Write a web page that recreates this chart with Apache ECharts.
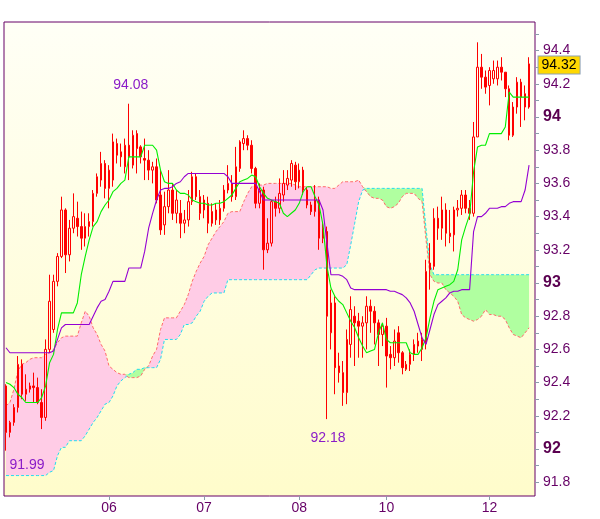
<!DOCTYPE html>
<html><head><meta charset="utf-8">
<script src="https://cdn.jsdelivr.net/npm/echarts@6/dist/echarts.min.js"></script>
<style>html,body{margin:0;padding:0;background:#fff}#c{width:600px;height:519px}</style>
</head><body><div id="c"></div>
<script>
const opens = [
92.38,92.10,92.16,92.25,92.51,92.33,92.36,92.38,92.37,92.28,
92.19,92.60,92.72,93.01,93.16,93.44,93.17,93.33,93.39,93.34,
93.27,93.34,93.37,93.54,93.62,93.72,93.57,93.62,93.84,93.79,
93.70,93.83,93.71,93.90,93.82,93.75,93.74,93.68,93.70,93.53,
93.35,93.46,93.56,93.42,93.42,93.36,93.38,93.49,93.64,93.52,
93.50,93.48,93.43,93.38,93.38,93.45,93.56,93.60,93.52,93.69,
93.84,93.87,93.83,93.69,93.48,93.56,93.20,93.24,93.49,93.45,
93.53,93.59,93.62,93.71,93.61,93.68,93.47,93.47,93.43,93.50,
93.33,93.31,92.70,92.88,92.50,92.46,92.34,92.63,92.80,92.77,
92.74,92.76,92.86,92.83,92.76,92.69,92.74,92.57,92.55,92.70,
92.58,92.48,92.51,92.57,92.62,92.60,92.64,93.12,93.10,93.39,
93.33,93.44,93.30,93.29,93.44,93.45,93.53,93.45,93.42,93.88,
94.30,94.24,94.19,94.23,94.23,94.30,94.27,94.17,93.89,94.06,
94.21,94.14,94.06];
const highs = [
92.39,92.17,92.27,92.56,92.54,92.45,92.40,92.46,92.43,92.36,
92.66,93.05,93.05,93.18,93.52,93.45,93.38,93.54,93.49,93.43,
93.42,93.42,93.56,93.66,93.79,93.74,93.71,93.90,93.87,93.84,
93.87,94.08,93.92,93.92,93.83,93.87,93.80,93.73,93.75,93.68,
93.55,93.68,93.60,93.56,93.50,93.44,93.56,93.67,93.66,93.56,
93.53,93.52,93.48,93.48,93.50,93.59,93.71,93.65,93.82,93.86,
93.92,93.89,93.86,93.70,93.60,93.58,93.39,93.50,93.52,93.63,
93.68,93.68,93.74,93.73,93.72,93.70,93.58,93.49,93.59,93.52,
93.36,93.34,92.96,92.92,92.58,92.53,92.72,92.92,92.86,92.82,
92.80,92.92,92.90,92.86,92.78,92.76,92.79,92.62,92.72,92.74,
92.59,92.53,92.60,92.66,92.70,92.70,93.14,93.24,93.45,93.46,
93.52,93.48,93.44,93.46,93.50,93.56,93.56,93.50,93.97,94.45,
94.38,94.28,94.30,94.34,94.34,94.36,94.27,94.19,94.09,94.24,
94.23,94.19,94.36];
const lows = [
91.99,92.07,92.14,92.22,92.30,92.29,92.34,92.28,92.27,92.12,
92.17,92.58,92.70,92.98,93.15,93.06,93.13,93.30,93.28,93.20,
93.22,93.28,93.34,93.52,93.58,93.51,93.45,93.58,93.72,93.70,
93.66,93.62,93.69,93.66,93.72,93.62,93.62,93.60,93.48,93.29,
93.29,93.42,93.38,93.36,93.27,93.30,93.34,93.47,93.50,93.38,
93.39,93.30,93.34,93.35,93.35,93.43,93.54,93.49,93.50,93.67,
93.80,93.80,93.66,93.45,93.45,93.08,93.18,93.22,93.40,93.42,
93.49,93.56,93.58,93.56,93.57,93.53,93.45,93.41,93.40,93.20,
93.24,92.18,92.60,92.33,92.40,92.26,92.27,92.55,92.50,92.55,
92.55,92.60,92.70,92.63,92.50,92.62,92.37,92.48,92.50,92.52,
92.45,92.47,92.47,92.53,92.58,92.53,92.60,92.96,93.08,93.26,
93.26,93.22,93.24,93.19,93.40,93.41,93.42,93.38,93.40,93.88,
94.17,94.14,94.07,94.20,94.19,94.22,94.12,93.86,93.88,94.02,
93.94,93.98,94.05];
const closes = [
92.10,92.16,92.25,92.51,92.33,92.36,92.38,92.37,92.28,92.19,
92.60,92.89,93.01,93.16,93.44,93.17,93.33,93.40,93.34,93.27,
93.34,93.37,93.54,93.64,93.72,93.57,93.68,93.85,93.77,93.76,
93.83,93.76,93.89,93.81,93.76,93.74,93.68,93.70,93.50,93.32,
93.46,93.56,93.42,93.50,93.36,93.38,93.49,93.64,93.52,93.42,
93.44,93.36,93.36,93.44,93.45,93.56,93.60,93.52,93.70,93.85,
93.87,93.83,93.69,93.48,93.56,93.20,93.24,93.49,93.45,93.54,
93.60,93.63,93.72,93.61,93.68,93.56,93.56,93.43,93.50,93.27,
93.27,92.80,92.88,92.49,92.46,92.34,92.66,92.84,92.76,92.74,
92.76,92.86,92.83,92.76,92.69,92.74,92.56,92.55,92.65,92.58,
92.49,92.51,92.57,92.63,92.65,92.66,93.07,93.08,93.39,93.33,
93.44,93.30,93.28,93.44,93.45,93.53,93.45,93.42,93.88,94.30,
94.24,94.18,94.28,94.28,94.30,94.27,94.17,93.89,94.06,94.21,
94.12,94.06,94.32];
const tenkan = [
92.40,92.39,92.37,92.33,92.31,92.28,92.28,92.28,92.28,92.31,
92.38,92.52,92.57,92.72,92.82,92.82,92.82,92.82,92.88,93.05,
93.16,93.26,93.34,93.37,93.43,93.47,93.50,93.55,93.57,93.60,
93.62,93.76,93.76,93.76,93.76,93.83,93.83,93.83,93.80,93.68,
93.61,93.60,93.60,93.56,93.54,93.54,93.53,93.50,93.49,93.48,
93.48,93.47,93.47,93.48,93.48,93.49,93.51,93.53,93.57,93.61,
93.62,93.63,93.65,93.64,93.58,93.54,93.51,93.50,93.49,93.48,
93.42,93.40,93.42,93.44,93.48,93.55,93.58,93.58,93.52,93.47,
93.35,93.10,92.97,92.92,92.89,92.87,92.82,92.77,92.73,92.67,
92.62,92.58,92.59,92.60,92.70,92.76,92.66,92.64,92.64,92.64,
92.64,92.64,92.58,92.57,92.57,92.61,92.67,92.79,92.89,92.96,
92.97,92.98,92.99,93.01,93.08,93.26,93.34,93.41,93.67,93.82,
93.83,93.83,93.90,93.90,93.90,93.90,93.94,94.15,94.12,94.12,
94.12,94.12,94.12];
const kijun = [
92.61,92.58,92.58,92.58,92.58,92.58,92.58,92.58,92.58,92.58,
92.58,92.58,92.59,92.66,92.73,92.75,92.75,92.75,92.75,92.75,
92.75,92.75,92.80,92.85,92.89,92.90,92.95,93.01,93.01,93.01,
93.01,93.09,93.09,93.09,93.09,93.19,93.33,93.42,93.50,93.56,
93.57,93.57,93.58,93.60,93.61,93.64,93.66,93.66,93.66,93.66,
93.66,93.66,93.66,93.66,93.66,93.66,93.64,93.60,93.60,93.60,
93.60,93.60,93.60,93.60,93.55,93.50,93.50,93.50,93.50,93.50,
93.50,93.50,93.50,93.50,93.50,93.50,93.50,93.50,93.50,93.50,
93.44,93.24,93.05,93.05,93.05,93.04,93.02,92.97,92.96,92.96,
92.96,92.96,92.96,92.96,92.96,92.96,92.96,92.95,92.95,92.94,
92.93,92.91,92.88,92.83,92.75,92.67,92.63,92.72,92.81,92.87,
92.89,92.91,92.94,92.95,92.95,92.96,92.96,92.96,93.31,93.40,
93.40,93.42,93.45,93.45,93.45,93.46,93.46,93.48,93.49,93.49,
93.49,93.56,93.71];
const senkouA = [
92.26,92.28,92.36,92.47,92.51,92.52,92.54,92.55,92.55,92.55,
92.57,92.58,92.60,92.64,92.67,92.68,92.68,92.68,92.68,92.76,
92.83,92.80,92.73,92.69,92.63,92.59,92.50,92.48,92.46,92.45,
92.45,92.43,92.43,92.43,92.44,92.48,92.50,92.56,92.60,92.72,
92.79,92.79,92.79,92.79,92.83,92.87,92.93,93.01,93.07,93.12,
93.16,93.23,93.27,93.31,93.34,93.37,93.42,93.43,93.43,93.43,
93.49,93.54,93.58,93.59,93.59,93.59,93.60,93.60,93.60,93.60,
93.60,93.60,93.60,93.59,93.58,93.58,93.58,93.58,93.58,93.58,
93.58,93.58,93.57,93.57,93.59,93.61,93.61,93.61,93.61,93.62,
93.58,93.55,93.52,93.51,93.51,93.50,93.46,93.45,93.46,93.48,
93.52,93.54,93.54,93.54,93.51,93.49,93.26,93.05,93.01,93.00,
93.00,92.96,92.94,92.92,92.89,92.81,92.79,92.78,92.77,92.78,
92.80,92.84,92.81,92.81,92.80,92.80,92.78,92.73,92.69,92.68,
92.67,92.70,92.73];
const senkouB = [
91.84,91.84,91.84,91.84,91.84,91.84,91.84,91.84,91.84,91.84,
91.84,91.86,91.87,91.96,92.01,92.01,92.05,92.05,92.05,92.05,
92.08,92.12,92.16,92.19,92.23,92.27,92.28,92.32,92.38,92.41,
92.43,92.45,92.46,92.48,92.48,92.49,92.49,92.49,92.49,92.54,
92.66,92.66,92.66,92.66,92.69,92.75,92.75,92.76,92.80,92.83,
92.89,92.92,92.94,92.94,92.94,92.94,93.02,93.02,93.02,93.02,
93.02,93.02,93.02,93.02,93.02,93.02,93.02,93.02,93.02,93.02,
93.02,93.02,93.02,93.02,93.02,93.02,93.02,93.05,93.08,93.09,
93.09,93.09,93.09,93.09,93.09,93.09,93.11,93.23,93.36,93.49,
93.56,93.57,93.57,93.57,93.57,93.57,93.57,93.57,93.57,93.57,
93.57,93.57,93.57,93.57,93.57,93.57,93.33,93.11,93.05,93.05,
93.05,93.05,93.05,93.05,93.05,93.05,93.05,93.05,93.05,93.05,
93.05,93.05,93.05,93.05,93.05,93.05,93.05,93.05,93.05,93.05,
93.05,93.05,93.05];
const xTickLabels = ['06','07','08','10','12'];
const xTickIndex = [26,50,74,96,122];
const yLabelValues = [91.8,92.0,92.2,92.4,92.6,92.8,93.0,93.2,93.4,93.6,93.8,94.0,94.2,94.4];
const yTickValues = [91.8,91.9,92.0,92.1,92.2,92.3,92.4,92.5,92.6,92.7,92.8,92.9,93.0,93.1,93.2,93.3,93.4,93.5,93.6,93.7,93.8,93.9,94.0,94.1,94.2,94.3,94.4,94.5];
const annotations = [
  {index:31, value:94.08, text:'94.08', dx:2, dy:-19},
  {index:81, value:92.18, text:'92.18', dx:1, dy:19},
  {index:0, value:91.99, text:'91.99', dx:21, dy:14}
];
const lastIndex = 132, lastPrice = 94.32;

const N = 134;
const cats = [];
for (let i = 0; i < N; i++) cats.push(String(i));
const labelMap = {};
xTickIndex.forEach((k, j) => labelMap[k] = xTickLabels[j]);
const ohlc = opens.map((o, i) => [o, closes[i], lows[i], highs[i]]);
const cloudBase = senkouA.map((a, i) => Math.min(a, senkouB[i]));
const cloudPink = senkouA.map((a, i) => +Math.max(0, a - senkouB[i]).toFixed(4));
const cloudGreen = senkouA.map((a, i) => +Math.max(0, senkouB[i] - a).toFixed(4));

const chart = echarts.init(document.getElementById('c'), null, {renderer: 'canvas'});
const purple = '#660066';
const lineBase = {type: 'line', showSymbol: false, symbol: 'none', silent: true, animation: false};
chart.setOption({
  animation: false,
  textStyle: {fontFamily: 'Liberation Sans, Arial, sans-serif'},
  grid: {
    left: 4, right: 65, top: 22, bottom: 23, show: true,
    borderColor: purple, borderWidth: 1,
    backgroundColor: {type: 'linear', x: 0, y: 0, x2: 0, y2: 1,
      colorStops: [{offset: 0, color: '#FFFFF6'}, {offset: 1, color: '#FFFCCB'}]}
  },
  xAxis: {
    type: 'category', data: cats, boundaryGap: true,
    axisLine: {show: false},
    axisTick: {show: true, alignWithLabel: true, length: 4, lineStyle: {color: '#8C9CAC'},
      interval: (idx) => labelMap[idx] !== undefined},
    axisLabel: {show: true, color: purple, fontSize: 14, margin: 5,
      interval: (idx) => labelMap[idx] !== undefined,
      formatter: (v, idx) => labelMap[idx] || ''},
    splitLine: {show: false}
  },
  yAxis: {
    type: 'value', position: 'right', min: 91.7169, max: 94.5723, scale: true,
    axisLine: {show: false},
    splitLine: {show: false},
    axisTick: {show: true, length: 4, lineStyle: {color: '#8C9CAC'}, customValues: yTickValues},
    axisLabel: {
      show: true, margin: 8, customValues: yLabelValues,
      formatter: (v) => {
        const r = Math.round(v * 10) / 10;
        if (Math.abs(r - Math.round(r)) < 1e-6) return '{b|' + Math.round(r) + '}';
        return '{n|' + r.toFixed(1) + '}';
      },
      rich: {
        n: {fontSize: 14, color: purple, fontFamily: 'Liberation Sans, Arial, sans-serif'},
        b: {fontSize: 16, fontWeight: 'bold', color: '#5A0050', fontFamily: 'Liberation Sans, Arial, sans-serif'}
      }
    }
  },
  series: [
    Object.assign({}, lineBase, {name: 'base', stack: 'cloud', data: cloudBase, lineStyle: {opacity: 0}, z: 1}),
    Object.assign({}, lineBase, {name: 'pink', stack: 'cloud', data: cloudPink, lineStyle: {opacity: 0},
      areaStyle: {color: '#FFCCE6', opacity: 1}, z: 1}),
    Object.assign({}, lineBase, {name: 'green', stack: 'cloud', data: cloudGreen, lineStyle: {opacity: 0},
      areaStyle: {color: '#B0FFA0', opacity: 1}, z: 1}),
    Object.assign({}, lineBase, {name: 'A', data: senkouA, lineStyle: {color: '#FF6A6A', width: 1, type: [3, 2]}, z: 2}),
    Object.assign({}, lineBase, {name: 'B', data: senkouB, lineStyle: {color: '#22DDEE', width: 1, type: [3, 2]}, z: 2}),
    {
      type: 'candlestick', name: 'price', data: ohlc, barWidth: 2, z: 3,
      itemStyle: {color: 'rgba(0,0,0,0)', color0: '#FF0000', borderColor: '#FF0000', borderColor0: '#FF0000', borderWidth: 1},
      markPoint: {
        symbol: 'circle', symbolSize: 0, animation: false, silent: true,
        data: annotations.map(a => ({
          coord: [a.index, a.value],
          label: {show: true, formatter: a.text, position: 'inside', offset: [a.dx, a.dy],
            color: '#8A1CC8', fontSize: 14}
        })).concat([{
          coord: [lastIndex, lastPrice],
          label: {show: true, formatter: lastPrice.toFixed(2), position: 'inside', offset: [30, 1],
            color: '#000', fontSize: 14, backgroundColor: '#FFD800', borderColor: '#8CA0B4', borderWidth: 1,
            padding: [2, 3, 1, 3]}
        }])
      }
    },
    Object.assign({}, lineBase, {name: 'tenkan', data: tenkan, lineStyle: {color: '#00EE00', width: 1.1}, z: 4}),
    Object.assign({}, lineBase, {name: 'kijun', data: kijun, lineStyle: {color: '#9400D3', width: 1.1}, z: 4})
  ]
});
</script>
</body></html>
